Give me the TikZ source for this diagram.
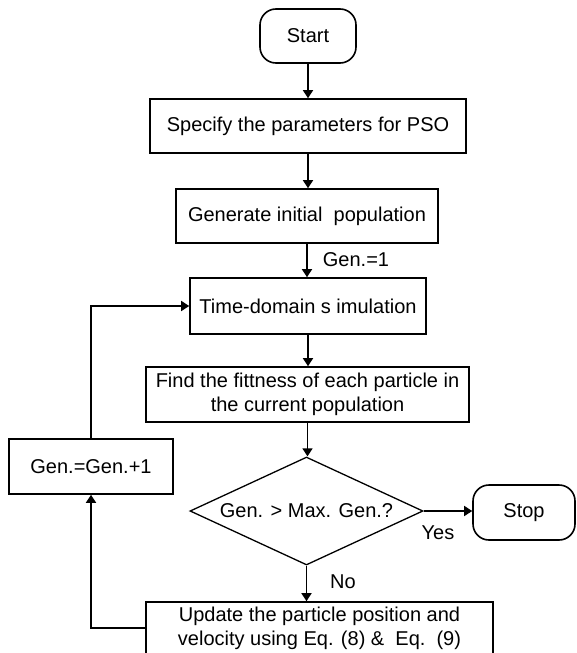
\documentclass[tikz,border=0pt]{standalone}
\usepackage{fontspec}
\setmainfont{Liberation Sans}
\usetikzlibrary{arrows.meta,shapes.geometric}
\begin{document}
\begin{tikzpicture}[x=1pt,y=-1pt,
  every node/.style={font=\fontsize{20}{24}\selectfont},
  box/.style={draw,line width=1.6pt,inner sep=0pt,align=center},
  term/.style={draw,line width=1.6pt,rounded corners=16pt,inner sep=0pt},
  dec/.style={draw,line width=1.3pt,diamond,aspect=2.16,inner sep=0pt},
  arr/.style={line width=1.6pt,-{Triangle[length=8pt,width=10pt]}},
  lbl/.style={inner sep=0pt}]
\useasboundingbox (0,0) rectangle (577,653);
\fill[white] (0,0) rectangle (577,653);

\node[term, minimum width=96pt, minimum height=54pt] (start) at (308,36) {Start};
\node[box, minimum width=316pt, minimum height=54pt] (spec) at (308,126) {Specify the parameters for PSO};
\node[box, minimum width=262pt, minimum height=54pt] (gen) at (307,216) {Generate initial\ \ population};
\node[box, minimum width=236pt, minimum height=56pt] (time) at (308,306) {Time-domain s imulation};
\node[box, minimum width=323pt, minimum height=55pt] (find) at (307.5,394.5) {Find the fittness of each particle in\\the current population};
\node[dec, minimum width=233pt, minimum height=108pt] (dec) at (306.5,511) {Gen. > Max. Gen.?};
\node[term, minimum width=102pt, minimum height=55pt] (stop) at (524,512.5) {Stop};
\node[box, minimum width=347pt, minimum height=52pt] (update) at (319.5,628) {Update the particle position and\\velocity using Eq. (8) \&\ \ Eq.\ \ (9)};
\node[box, minimum width=164pt, minimum height=55pt] (inc) at (91,466.5) {Gen.=Gen.+1};

\node[lbl] (g1) at (356,260) {Gen.=1};
\node[lbl] (yes) at (438,533) {Yes};
\node[lbl] (no) at (343,582) {No};
\coordinate (c1) at (92,628);

\draw[arr] (start.south) -- (spec.north);
\draw[arr] (spec.south) -- (spec.south |- gen.north);
\draw[arr] (gen.south) -- (gen.south |- time.north);
\draw[arr] (time.south) -- (time.south |- find.north);
\draw[arr] (find.south) -- (find.south |- dec.north);
\draw[arr] (dec.east) -- (stop.west |- dec.east);
\draw[arr] (dec.south) -- (dec.south |- update.north);
\draw[arr] (update.west |- c1) -| (inc.south);
\draw[arr] (inc.north) |- (time.west);
\end{tikzpicture}
\end{document}
